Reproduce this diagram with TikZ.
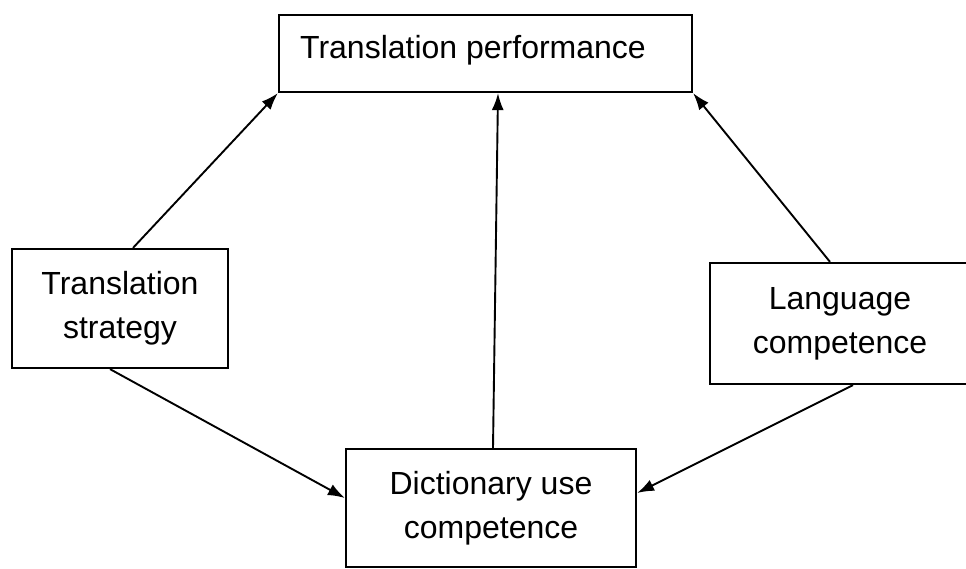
\documentclass[tikz,border=0pt]{standalone}
\usepackage{fontspec}
\setmainfont{Liberation Sans}
\usetikzlibrary{arrows.meta}
\begin{document}
\begin{tikzpicture}[x=1pt,y=-1pt,
  box/.style={draw, line width=2.2pt, align=center, inner sep=0pt,
    font=\fontsize{32}{44}\selectfont},
  conn/.style={line width=1.9pt, -{Latex[length=17pt,width=12pt]}}]
\useasboundingbox (0,0) rectangle (966,568);
\node[box, minimum width=413pt, minimum height=77pt] (T) at (485.5,53.5) {};
\node[font=\fontsize{32}{44}\selectfont] (Tt) at (473,50) {Translation performance};
\node[box, minimum width=216pt, minimum height=119pt] (L) at (120,308.5) {Translation\\strategy};
\node[box, minimum width=260pt, minimum height=121pt] (R) at (840,323.5) {Language\\competence};
\node[box, minimum width=290pt, minimum height=118pt] (B) at (491,508) {Dictionary use\\competence};
\draw[conn] ([xshift=13pt]L.north) -- (T.south west);
\draw[conn] ([xshift=2pt]B.north) -- ([xshift=12.5pt]T.south);
\draw[conn] ([xshift=-10pt]R.north) -- (T.south east);
\draw[conn] ([xshift=-10pt]L.south) -- ([yshift=10pt]B.west);
\draw[conn] ([xshift=13pt]R.south) -- ([yshift=15pt]B.east);
\end{tikzpicture}
\end{document}
